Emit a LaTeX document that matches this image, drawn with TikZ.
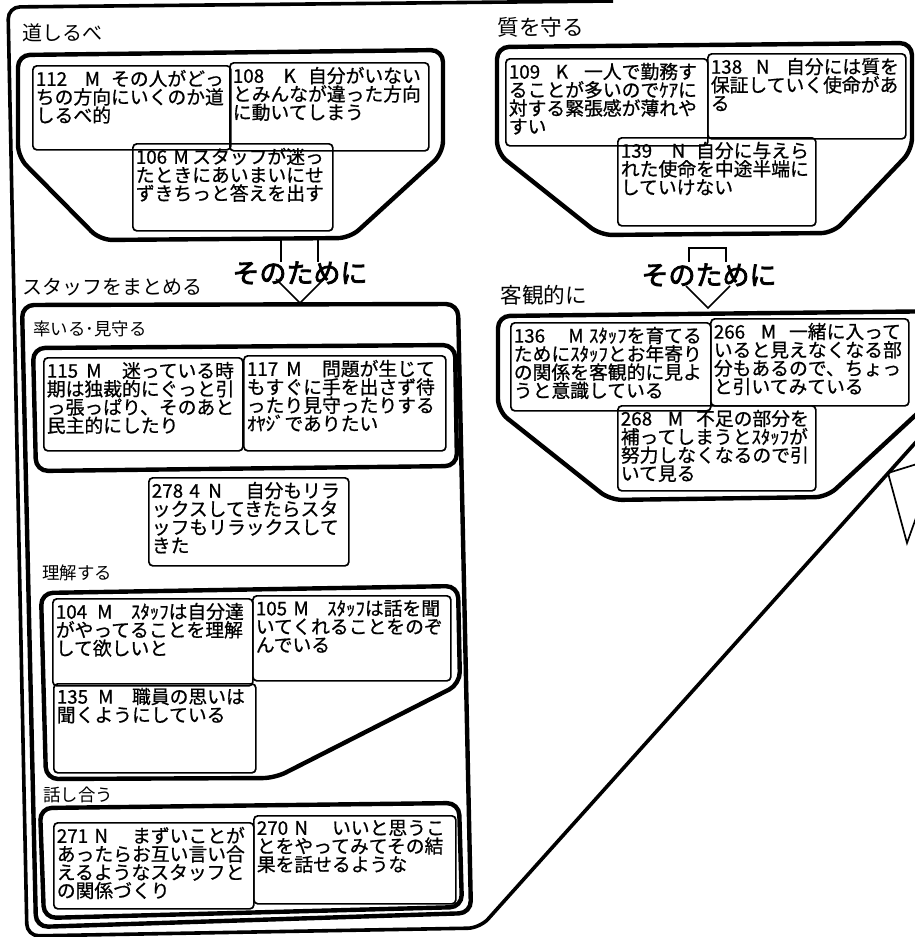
\documentclass[tikz,border=0pt]{standalone}
\usepackage{fontspec}
\setmainfont{Noto Sans CJK JP}
\newfontfamily\boldjp{Noto Sans CJK JP}[FakeBold=3]
\newfontfamily\cardjp{Noto Sans CJK JP}[FakeBold=0.8]
\newdimen\px \px=0.5pt
% prefix: number, letter at #1 em, total 4em
\newcommand\pf[3]{\makebox[4em][l]{\makebox[#1em][l]{#2}#3}}
\newcommand\pfw[4]{\makebox[#4em][l]{\makebox[#1em][l]{#2}#3}}
\tikzset{
  card/.style={draw, line width=0.85pt, rounded corners=2pt, anchor=north west,
    inner xsep=1.5pt, inner ysep=2pt, font=\cardjp\fontsize{9.4pt}{9.15pt}\selectfont},
  grp/.style={line width=2.2pt, rounded corners=6pt},
  outerline/.style={line width=1.8pt, rounded corners=6pt},
  arr/.style={line width=0.85pt},
  glabel/.style={anchor=west, inner sep=0pt, font=\fontsize{10pt}{10pt}\selectfont},
  slabel/.style={anchor=west, inner sep=0pt, font=\fontsize{8.7pt}{8.7pt}\selectfont},
  tame/.style={inner sep=0pt, font=\boldjp\fontsize{13.5pt}{13.5pt}\selectfont},
}
\newcommand\card[6]{\node[card] (#1) at (#2,#3)
  {\parbox[t][\dimexpr#5\px-8\px\relax][t]{\dimexpr#4\px-6\px\relax}{\raggedright #6}};}
\begin{document}
\begin{tikzpicture}[x=0.5pt,y=-0.5pt]
\useasboundingbox (0,0) rectangle (915,937);
\clip (0,0) rectangle (915,937);

% outer frame
\draw[outerline] (613,1) -- (8,7) -- (27,936) -- (480,928) -- (960,393);

% group outlines
\draw[grp] (18,55) -- (443,50) -- (443,153) -- (350,238) -- (100,240) -- (18,157) -- cycle;
\draw[grp] (497,47) -- (912,43) -- (912,150) -- (833,233) -- (600,235) -- (497,153) -- cycle;
\draw[grp] (22,305) -- (458,304) -- (471,913) -- (36,927) -- cycle;
\draw[grp] (33,348) -- (455,345) -- (457,466) -- (36,471) -- cycle;
\draw[grp] (41,593) -- (458,586) -- (460,684) -- (275,778) -- (46,779) -- cycle;
\draw[grp] (40,808) -- (459,803) -- (462,907) -- (44,918) -- cycle;
\draw[grp] (960,374) -- (827,497) -- (610,500) -- (498,411) -- (498,316) -- (960,311);

% labels
\node[glabel] (l1) at (22,33) {道しるべ};
\node[glabel, font=\fontsize{10.8pt}{10.8pt}\selectfont] (l2) at (497,27) {質を守る};
\node[glabel] (l3) at (22,287) {スタッフをまとめる};
\node[glabel, font=\fontsize{10.8pt}{10.8pt}\selectfont] (l4) at (500,295) {客観的に};
\node[slabel] (l5) at (33,329) {率いる･見守る};
\node[slabel] (l6) at (42,573) {理解する};
\node[slabel] (l7) at (43,795) {話し合う};

% cards
\card{c112}{32}{65}{198}{84}{\pf{2.6}{112}{M}その人がどっ\\ちの方向にいくのか道\\しるべ的}
\card{c108}{229}{62}{199}{88}{\pf{2.7}{108}{K}自分がいない\\とみんなが違った方向\\に動いてしまう}
\card{c106}{132}{143}{200}{87}{\pfw{2.0}{106}{M}{3}スタッフが迷っ\\たときにあいまいにせ\\ずきちっと答えを出す}
\card{c109}{505}{58}{202}{87}{\pf{2.5}{109}{K}一人で勤務す\\ることが多いのでｹｱに\\対する緊張感が薄れや\\すい}
\card{c138}{707}{53}{198}{85}{\pf{2.4}{138}{N}自分には質を\\保証していく使命があ\\る}
\card{c139}{617}{137}{198}{88}{\pf{2.7}{139}{N}自分に与えら\\れた使命を中途半端に\\していけない}
\card{c115}{43}{357}{199}{93}{\pf{2.1}{115}{M}迷っている時\\期は独裁的にぐっと引\\っ張っぱり、そのあと\\民主的にしたり}
\card{c117}{243}{355}{202}{95}{\pf{2.1}{117}{M}問題が生じて\\もすぐに手を出さず待\\ったり見守ったりする\\ｵﾔｼﾞでありたい}
\card{c278}{148}{477}{200}{88}{\makebox[5em][l]{\makebox[2em][l]{278}\makebox[1em][l]{4}N}自分もリラ\\ックスしてきたらスタ\\ッフもリラックスして\\きた}
\card{c104}{52}{598}{200}{87}{\pf{2.2}{104}{M}ｽﾀｯﾌは自分達\\がやってることを理解\\して欲しいと}
\card{c105}{252}{595}{198}{85}{\pfw{2.0}{105}{M}{3.8}ｽﾀｯﾌは話を聞\\いてくれることをのぞ\\んでいる}
\card{c135}{53}{683}{202}{89}{\pf{2.2}{135}{M}職員の思いは\\聞くようにしている}
\card{c271}{53}{822}{200}{86}{\pf{2}{271}{N}まずいことが\\あったらお互い言い合\\えるようなスタッフと\\の関係づくり}
\card{c270}{253}{815}{202}{88}{\pf{2.0}{270}{N}いいと思うこ\\とをやってみてその結\\果を話せるような}
\card{c136}{510}{322}{200}{88}{\pf{2.9}{136}{M}ｽﾀｯﾌを育てる\\ためにｽﾀｯﾌとお年寄り\\の関係を客観的に見よ\\うと意識している}
\card{c266}{710}{318}{198}{87}{\pf{2.5}{266}{M}一緒に入って\\いると見えなくなる部\\分もあるので、ちょっ\\と引いてみている}
\card{c268}{617}{405}{198}{85}{\pf{2.5}{268}{M}不足の部分を\\補ってしまうとｽﾀｯﾌが\\努力しなくなるので引\\いて見る}

% block arrows "そのために"
\coordinate (a1l) at (281,238); \coordinate (a1r) at (318,238);
\draw[arr] (a1l) -- (281,262) (a1r) -- (318,262);
\draw[arr] (276,279) -- (300,303) -- (324,279);
\node[tame] (t1) at (300,273) {そのために};

\coordinate (a2l) at (689,248); \coordinate (a2r) at (726,248);
\draw[arr] (689,262) -- (a2l) -- (a2r) -- (726,262);
\draw[arr] (686,286) -- (708,308) -- (730,286);
\node[tame] (t2) at (709,275) {そのために};

% partial arrow at right edge
\draw[arr] (917,464) -- (888,473) -- (907,543) -- (917,515);
\end{tikzpicture}
\end{document}
